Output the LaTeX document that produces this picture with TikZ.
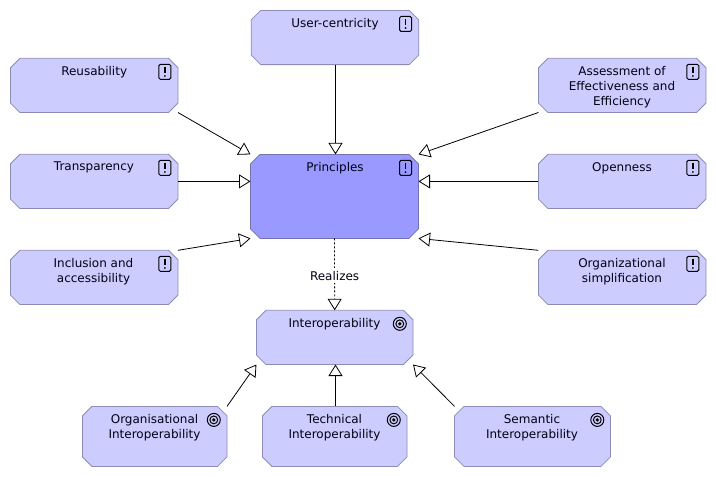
\documentclass[tikz,border=0pt]{standalone}
\usepackage{fontspec}
\setmainfont{DejaVu Sans}
\usetikzlibrary{arrows.meta,calc}
\definecolor{boxfill}{HTML}{CCCCFF}
\definecolor{corefill}{HTML}{9999FF}
\definecolor{boxline}{HTML}{8C8CB8}
\definecolor{coreline}{HTML}{7272B4}
\tikzset{
  x=1pt,y=-1pt,
  box/.style={rectangle,inner sep=0pt,outer sep=0pt},
  big/.style={box,minimum width=167.6pt,minimum height=54.2pt},
  core/.style={box,minimum width=168pt,minimum height=84pt},
  goalbox/.style={box,minimum width=156.6pt,minimum height=54.2pt},
  low/.style={box,minimum width=144.6pt,minimum height=60pt},
  lowwide/.style={box,minimum width=156pt,minimum height=60pt},
  octline/.style={draw=boxline,fill=boxfill,line width=.8pt},
  octcore/.style={draw=coreline,fill=corefill,line width=.8pt},
  txt/.style={font=\fontsize{12}{15}\selectfont,align=center,text=black!92!blue,anchor=north,inner sep=0pt},
  spec/.style={line width=.8pt,-{Triangle[open,fill=white,width=14pt,length=11.5pt,line width=.8pt]}},
  real/.style={spec,dash pattern=on 2pt off 2pt},
  pics/warn/.style={code={
    \draw[line width=1pt,rounded corners=1.5pt] (-6,-7.5) rectangle (6,7.5);
    \draw[line width=1.5pt] (0,-4.5) -- (0,1.5);
    \fill (0,4.2) circle (1pt);
  }},
  pics/goal/.style={code={
    \draw[line width=1pt] (0,0) circle (6.5pt);
    \draw[line width=1pt] (0,0) circle (3.9pt);
    \fill (0,0) circle (1.8pt);
  }},
}
\newcommand{\octo}[2]{%
  \path[#2] ($(#1.north west)+(9.5,0)$) -- ($(#1.north east)+(-9.5,0)$) -- ($(#1.north east)+(0,9.5)$)
    -- ($(#1.south east)+(0,-9.5)$) -- ($(#1.south east)+(-9.5,0)$) -- ($(#1.south west)+(9.5,0)$)
    -- ($(#1.south west)+(0,-9.5)$) -- ($(#1.north west)+(0,9.5)$) -- cycle;}
\begin{document}
\begin{tikzpicture}
\useasboundingbox (0,0) rectangle (716,477);
\fill[white] (0,0) rectangle (716,477);

\node[big] (user) at (335,37.5) {};
\node[core] (prin) at (334.5,196.4) {};
\node[big] (reus) at (94.2,85.4) {};
\node[big] (tran) at (94.2,181.4) {};
\node[big] (incl) at (94.2,277.4) {};
\node[big] (asse) at (622.2,85.4) {};
\node[big] (open) at (622.2,181.4) {};
\node[big] (orgs) at (622.2,277.4) {};
\node[goalbox] (inter) at (334.7,337.4) {};
\node[low] (orgi) at (154.7,436.4) {};
\node[low] (tech) at (334.7,436.4) {};
\node[lowwide] (sema) at (532.5,436.4) {};

\foreach \n in {user,reus,tran,incl,asse,open,orgs,inter,orgi,tech,sema}
  {\octo{\n}{octline}}
\octo{prin}{octcore}

\node[txt] (tuser) at (335,18) {User-centricity};
\node[txt] (tprin) at (335,162) {Principles};
\node[txt] (treus) at (94.2,66) {Reusability};
\node[txt] (ttran) at (94,162) {Transparency};
\node[txt] (tincl) at (93.5,258) {Inclusion and\\accessibility};
\node[txt] (tasse) at (622,66) {Assessment of\\Effectiveness and\\Efficiency};
\node[txt] (topen) at (622,162) {Openness};
\node[txt] (torgs) at (622,258) {Organizational\\simplification};
\node[txt] (tinter) at (334.5,318) {Interoperability};
\node[txt] (torgi) at (154.5,414) {Organisational\\Interoperability};
\node[txt] (ttech) at (334.5,414) {Technical\\Interoperability};
\node[txt] (tsema) at (532,414) {Semantic\\Interoperability};

\foreach \n in {user,reus,tran,incl,asse,open,orgs}
  \path ($(\n.north east)+(-13.2,13.5)$) pic {warn};
\path ($(prin.north east)+(-13,13.5)$) pic {warn};
\foreach \n in {inter,orgi,tech,sema}
  \path ($(\n.north east)+(-13.2,13.5)$) pic {goal};

\draw[spec] ($(user.south)+(.5,0)$) -- ($(prin.north)+(1,0)$);
\draw[spec] (reus.south east) -- (prin.north west);
\draw[spec] (tran.east) -- (prin.west |- tran.east);
\draw[spec] (incl.north east) -- (prin.south west);
\draw[spec] (asse.south west) -- (prin.north east);
\draw[spec] (open.west) -- (prin.east |- open.west);
\draw[spec] (orgs.north west) -- (prin.south east);
\draw[real] (prin.south) -- node[txt,anchor=center,fill=white,inner ysep=3pt,inner xsep=1pt,yshift=-1.5pt] (lreal) {Realizes} (inter.north);
\draw[spec] (orgi.north east) -- (inter.south west);
\draw[spec] ($(tech.north)+(.8,0)$) -- ($(inter.south)+(.8,0)$);
\draw[spec] (sema.north west) -- (inter.south east);
\end{tikzpicture}
\end{document}
